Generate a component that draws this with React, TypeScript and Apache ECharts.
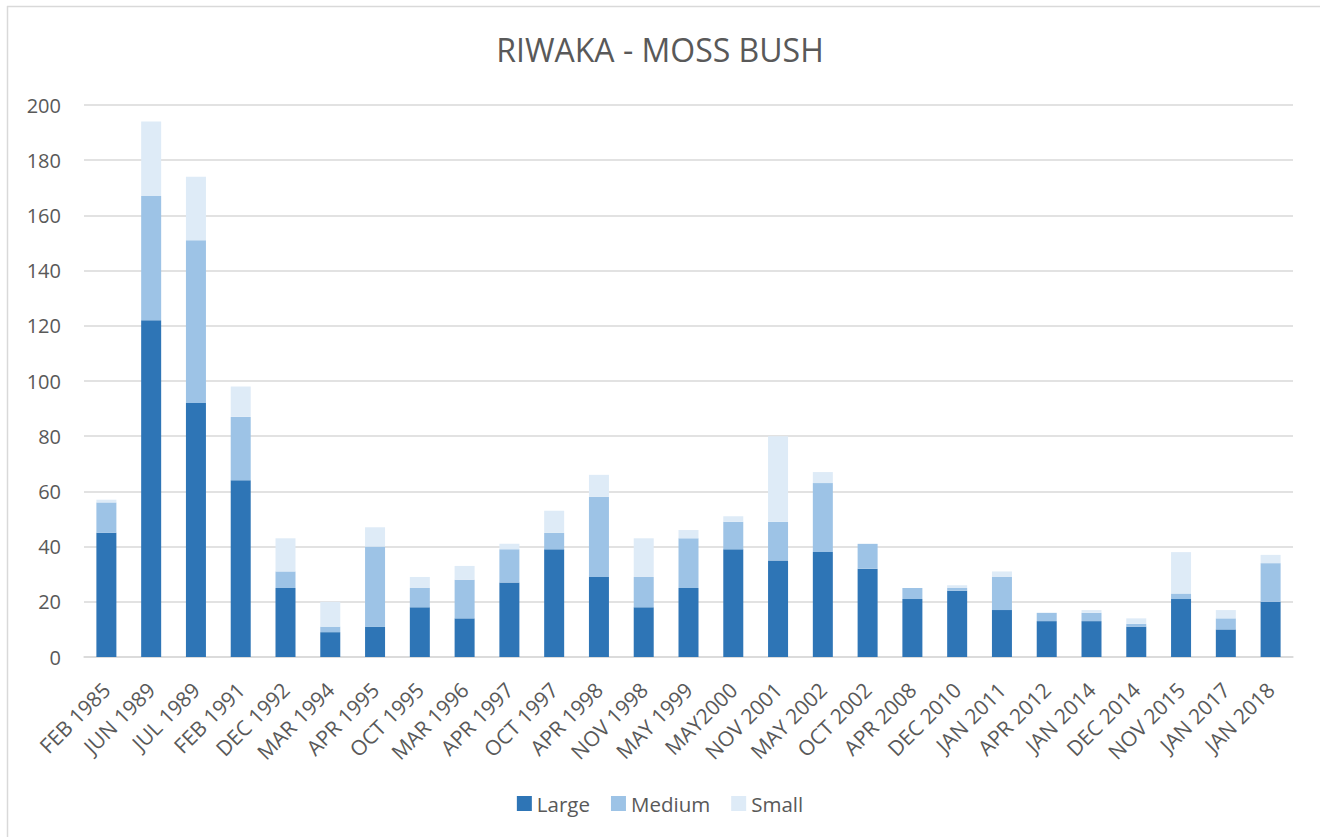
import React, { useEffect, useRef } from "react";
import * as echarts from "echarts";

// Survey dates (x categories)
const categories = [
  "FEB 1985", "JUN 1989", "JUL 1989", "FEB 1991", "DEC 1992", "MAR 1994",
  "APR 1995", "OCT 1995", "MAR 1996", "APR 1997", "OCT 1997", "APR 1998",
  "NOV 1998", "MAY 1999", "MAY2000", "NOV 2001", "MAY 2002", "OCT 2002",
  "APR 2008", "DEC 2010", "JAN 2011", "APR 2012", "JAN 2014", "DEC 2014",
  "NOV 2015", "JAN 2017", "JAN 2018",
];

// Counts per size class, stacked Large → Medium → Small
const large = [45, 122, 92, 64, 25, 9, 11, 18, 14, 27, 39, 29, 18, 25, 39, 35, 38, 32, 21, 24, 17, 13, 13, 11, 21, 10, 20];
const medium = [11, 45, 59, 23, 6, 2, 29, 7, 14, 12, 6, 29, 11, 18, 10, 14, 25, 9, 4, 1, 12, 3, 3, 1, 2, 4, 14];
const small = [1, 27, 23, 11, 12, 9, 7, 4, 5, 2, 8, 8, 14, 3, 2, 31, 4, 0, 0, 1, 2, 0, 1, 2, 15, 3, 3];

const FONT = "'Open Sans', sans-serif";
const TEXT = "#595959";
const GRID_LINE = "#d9d9d9";

export default function App() {
  const ref = useRef<HTMLDivElement>(null);

  useEffect(() => {
    if (!ref.current) return;
    const chart = echarts.init(ref.current, undefined, { renderer: "svg" });

    const bar = (name: string, data: number[], color: string) => ({
      name,
      type: "bar",
      stack: "total",
      data,
      barWidth: 20,
      itemStyle: { color },
      emphasis: { disabled: true },
    });

    chart.setOption({
      animation: false,
      backgroundColor: "#ffffff",
      textStyle: { fontFamily: FONT },
      title: {
        text: "RIWAKA - MOSS BUSH",
        left: "center",
        top: 28,
        textStyle: { fontFamily: FONT, fontSize: 32, fontWeight: "normal", color: TEXT },
      },
      legend: {
        bottom: 18,
        left: "center",
        itemWidth: 15,
        itemHeight: 15,
        itemGap: 21,
        icon: "rect",
        textStyle: { fontFamily: FONT, fontSize: 20.5, color: TEXT },
        data: ["Large", "Medium", "Small"],
      },
      grid: {
        left: 84,
        right: 27,
        top: 105,
        bottom: 180,
        containLabel: false,
        outerBoundsMode: "none",
      },
      xAxis: {
        type: "category",
        data: categories,
        axisTick: { show: false },
        axisLine: { lineStyle: { color: GRID_LINE, width: 1.5 } },
        axisLabel: {
          rotate: 45,
          interval: 0,
          margin: 29,
          align: "right",
          verticalAlign: "middle",
          fontFamily: FONT,
          fontSize: 21,
          color: TEXT,
        },
      },
      yAxis: {
        type: "value",
        min: 0,
        max: 200,
        interval: 20,
        axisLine: { show: false },
        axisTick: { show: false },
        splitLine: { lineStyle: { color: GRID_LINE, width: 1.5 } },
        axisLabel: { margin: 23, fontFamily: FONT, fontSize: 20, color: TEXT },
      },
      graphic: [
        {
          type: "line",
          shape: { x1: 7.5, y1: 6, x2: 7.5, y2: 837 },
          style: { stroke: GRID_LINE, lineWidth: 1.5 },
        },
        {
          type: "line",
          shape: { x1: 7, y1: 6.5, x2: 1320, y2: 6.5 },
          style: { stroke: GRID_LINE, lineWidth: 1.5 },
        },
      ],
      series: [
        bar("Large", large, "#2e75b6"),
        bar("Medium", medium, "#9dc3e6"),
        bar("Small", small, "#deebf7"),
      ],
    });

    return () => chart.dispose();
  }, []);

  return (
    <div
      ref={ref}
      style={{ position: "absolute", left: 0, top: 0, width: 1320, height: 837 }}
    />
  );
}
